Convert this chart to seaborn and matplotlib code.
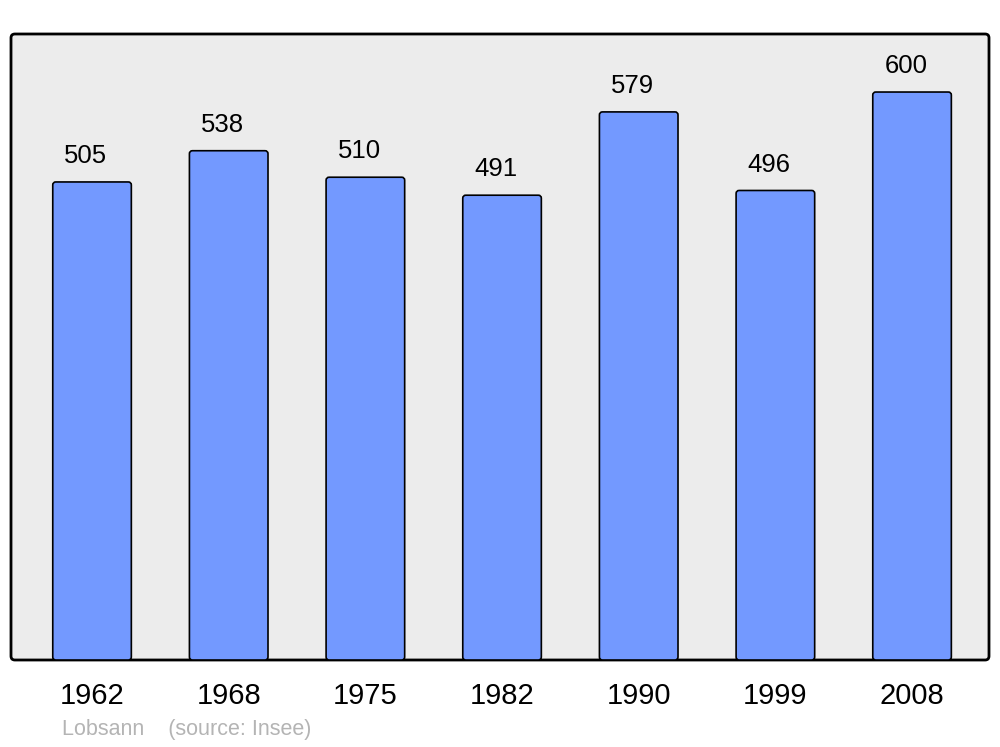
import matplotlib
matplotlib.use("Agg")
import matplotlib.pyplot as plt
from matplotlib.patches import FancyBboxPatch
import seaborn as sns
import pandas as pd

years = ["1962", "1968", "1975", "1982", "1990", "1999", "2008"]
population = [505, 538, 510, 491, 579, 496, 600]

bar_color = "#7399FF"
panel_color = "#ECECEC"

df = pd.DataFrame({"year": years, "population": population})

sns.set_theme(style="white")
plt.rcParams["font.family"] = ["Liberation Sans", "DejaVu Sans"]

fig = plt.figure(figsize=(10, 7.47), dpi=100)
ax_w, ax_h = 978, 626
ax = fig.add_axes([11 / 1000, (747 - 660) / 747, ax_w / 1000, ax_h / 747])

sns.barplot(data=df, x="year", y="population", color=bar_color,
            edgecolor="black", linewidth=1.2, width=0.575, saturation=1, ax=ax)

ax.set_xlim(-0.593, 6.563)
ax.set_ylim(0, 661.3)

# rounded panel instead of plain axes background
ax.patch.set_visible(False)
for s in ax.spines.values():
    s.set_visible(False)
panel = FancyBboxPatch((0, 0), 1, 1, boxstyle="round,pad=0,rounding_size=0.004",
                       mutation_aspect=ax_w / ax_h, transform=ax.transAxes,
                       facecolor=panel_color, edgecolor="black", linewidth=2.0,
                       clip_on=False, zorder=0)
ax.add_patch(panel)

# rounded bars
px_x = ax_w / (6.563 + 0.593)
px_y = ax_h / 661.3
for p in list(ax.patches):
    if p is panel:
        continue
    x, y, w, h = p.get_x(), p.get_y(), p.get_width(), p.get_height()
    rb = FancyBboxPatch((x, y), w, h, boxstyle="round,pad=0,rounding_size=%f" % (3 / px_x),
                        mutation_aspect=px_x / px_y, facecolor=bar_color,
                        edgecolor="black", linewidth=1.2, zorder=2)
    ax.add_patch(rb)
    p.set_visible(False)

for c in ax.containers:
    labels = ax.bar_label(c, fontsize=18.5, padding=10, color="black")
    for t in labels:
        t.xyann = (-4.5, 10)

ax.set_xlabel("")
ax.set_ylabel("")
ax.set_yticks([])
ax.tick_params(axis="x", length=0, pad=16, labelsize=21, labelcolor="black")

fig.text(62 / 1000, 1 - 730 / 747, "Lobsann    (source: Insee)",
         fontsize=15.5, color="#B4B4B4", va="center", ha="left")

fig.savefig("out.png", dpi=100, facecolor="white")
